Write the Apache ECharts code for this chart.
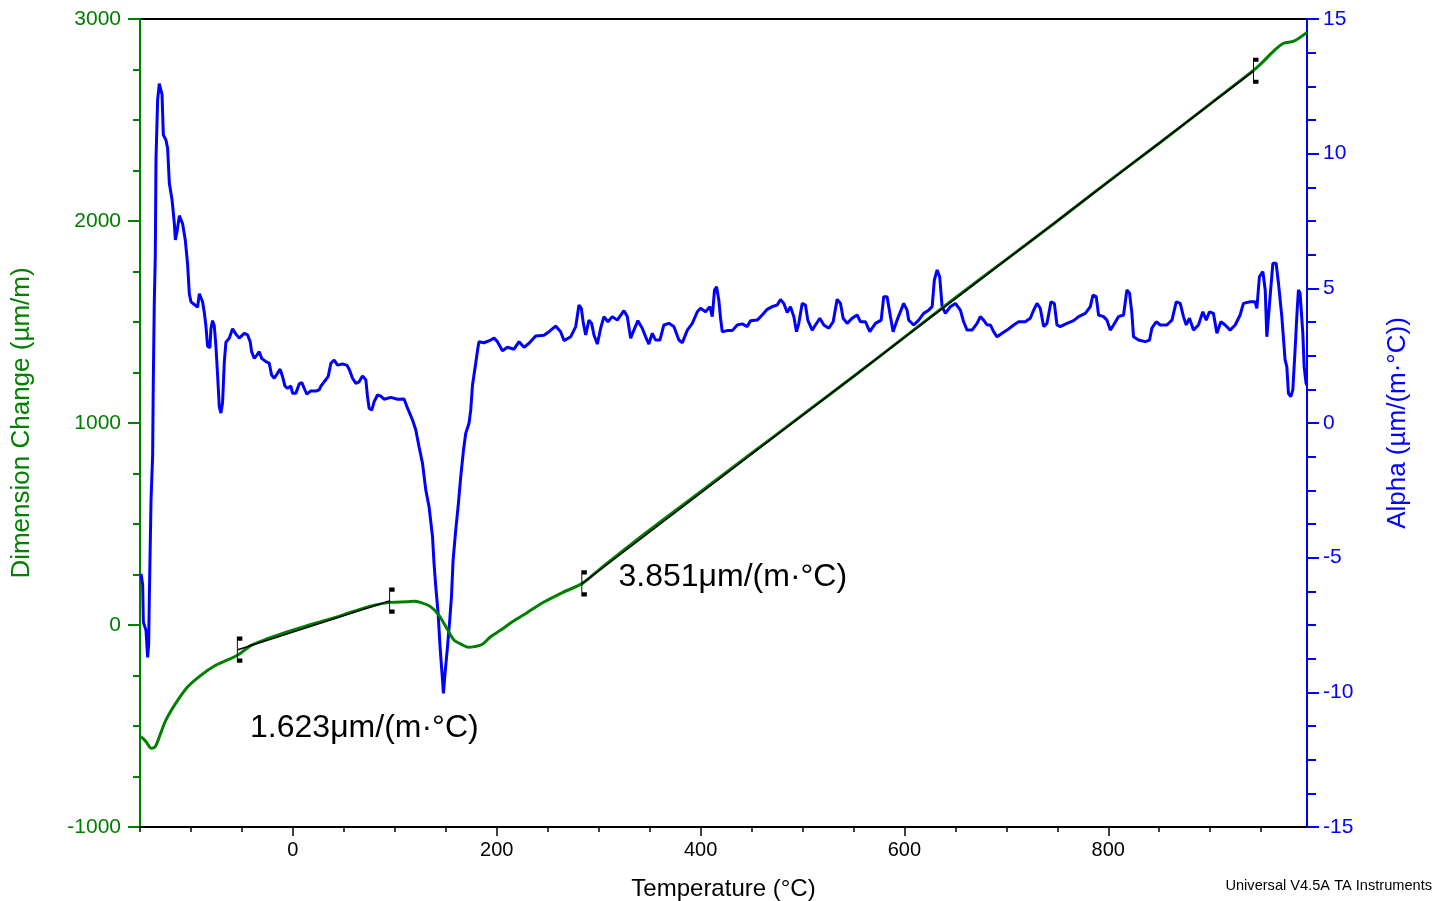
<!DOCTYPE html>
<html>
<head>
<meta charset="utf-8">
<title>Dimension Change and Alpha vs Temperature</title>
<script src="https://cdn.jsdelivr.net/npm/echarts@6/dist/echarts.min.js"></script>
<style>
  html, body { margin: 0; padding: 0; background: #fff; }
  #chart { width: 1448px; height: 901px; }
</style>
</head>
<body>
<div id="chart"></div>
<script>
// Dimension change (µm/m) against temperature (°C)
const dimTemp = [-149, -144, -139, -135, -131, -124.5, -115, -103, -90, -77, -64, -54, -41, -25, -5, 14, 40, 60, 80, 96, 112, 119, 125, 135, 143, 152, 158, 165, 172, 178, 186, 194, 204, 215, 230, 245, 263, 284, 300, 350, 400, 450, 500, 550, 600, 650, 700, 750, 800, 850, 900, 943, 952, 962, 972, 982, 995];
const dimValue = [-553, -578, -610, -602, -553, -470, -388, -305, -248, -203, -173, -149, -101, -68, -33, -3, 35, 68, 98, 112, 115, 118, 112, 91, 50, -25, -74, -95, -110, -107, -95, -58, -25, 15, 62, 110, 157, 206, 272, 470, 660, 850, 1040, 1230, 1425, 1620, 1810, 2000, 2195, 2385, 2580, 2748, 2789, 2840, 2880, 2890, 2934];

// Coefficient of expansion, alpha (µm/(m·°C)) against temperature (°C)
const alphaTemp = [
  -149, -147.4, -146.7, -144.1, -142.5, -141.5, -140.8, -139.2, -137.6, -137.0,
  -136.0, -135.0, -134.3, -132.7, -131.1, -129.4, -128.4, -127.1, -124.5, -122.9,
  -121.2, -118.6, -116.3, -115.3, -113.7, -111.4, -109.8, -108.2, -105.6, -103.3,
  -101.6, -100.0, -96.7, -93.5, -91.8, -90.2, -88.6, -86.9, -85.3, -83.7,
  -81.4, -80.4, -78.8, -77.1, -75.5, -73.9, -72.2, -70.6, -69.0, -67.3,
  -65.7, -62.4, -59.2, -55.9, -52.6, -47.7, -44.4, -41.9, -40.5, -37.9,
  -35.3, -33.0, -30.7, -26.5, -23.2, -20.9, -18.3, -15.0, -12.5, -10.1,
  -7.8, -5.2, -2.0, -0.3, 2.9, 6.2, 8.8, 11.1, 13.7, 17.6,
  22.5, 25.8, 27.5, 30.7, 34.6, 37.3, 40.5, 43.8, 48.7, 52.9,
  55.2, 58.5, 61.8, 65.0, 68.3, 71.6, 73.2, 74.8, 77.5, 79.7,
  83.0, 86.3, 89.5, 96.1, 102.6, 109.1, 112.5, 117.4, 120.6, 123.8,
  127.2, 130.4, 133.6, 137.0, 138.5, 140.2, 142.5, 144.4, 146.8, 147.7,
  149.3, 151.7, 153.9, 155.6, 157.2, 159.8, 162.1, 164.7, 167.4, 169.6,
  172.8, 174.5, 176.2, 179.4, 181.7, 182.6, 187.5, 194.1, 197.4, 200.7,
  205.6, 210.5, 217.0, 221.9, 226.8, 231.7, 238.2, 246.4, 251.3, 257.8,
  262.7, 266.0, 272.5, 277.5, 280.7, 283.0, 285.0, 287.3, 290.5, 293.1,
  295.4, 298.7, 302.0, 305.2, 309.1, 313.4, 318.3, 324.8, 328.1, 331.4,
  334.6, 338.5, 342.8, 346.1, 349.3, 352.6, 355.9, 360.1, 364.0, 368.9,
  373.8, 378.7, 382.1, 387.0, 391.9, 396.8, 400.0, 404.9, 409.1, 411.5,
  413.7, 415.7, 417.9, 419.6, 421.3, 426.2, 431.1, 436.0, 440.9, 445.8,
  449.0, 455.6, 460.5, 465.4, 470.3, 475.2, 478.4, 481.7, 485.0, 488.2,
  491.5, 494.1, 496.4, 499.7, 502.9, 505.2, 509.5, 512.7, 517.0, 520.9,
  525.8, 530.1, 534.0, 537.3, 539.9, 543.8, 548.7, 553.6, 556.9, 561.8,
  566.0, 571.6, 577.2, 579.7, 583.0, 586.3, 588.9, 592.8, 599.3, 602.6,
  604.2, 609.1, 614.0, 618.9, 623.8, 627.2, 629.4, 632.1, 634.6, 637.0,
  640.2, 645.1, 650.0, 654.9, 658.1, 661.5, 666.4, 671.3, 674.5, 677.7,
  681.1, 684.3, 687.5, 690.9, 695.8, 700.7, 707.2, 712.1, 718.6, 723.5,
  726.8, 730.1, 733.3, 736.6, 739.9, 743.8, 747.1, 749.7, 752.9, 759.5,
  766.0, 770.9, 777.5, 782.4, 785.0, 788.2, 790.5, 795.4, 798.7, 802.0,
  805.2, 810.1, 815.0, 818.3, 820.9, 823.2, 824.8, 829.7, 836.3, 840.5,
  842.8, 847.1, 851.0, 857.5, 862.5, 866.7, 870.6, 873.8, 876.5, 879.7,
  883.6, 888.5, 892.8, 896.1, 899.3, 903.2, 906.6, 910.5, 914.7, 919.6,
  924.5, 929.4, 932.6, 939.2, 944.1, 945.8, 948.3, 951.7, 954.0, 955.6,
  957.2, 958.8, 961.5, 964.7, 967.0, 970.3, 973.5, 975.2, 976.8, 979.1,
  981.1, 983.3, 985.0, 986.6, 988.2, 990.9, 992.2, 994.1, 995.0
];
const alphaValue = [
  -5.6, -6.0, -7.4, -7.7, -8.7, -8.2, -6.4, -2.9, -1.2, 1.35,
  4.4, 6.2, 9.8, 12.0, 12.6, 12.6, 12.2, 10.7, 10.5, 10.2,
  8.9, 8.3, 7.4, 6.8, 7.1, 7.7, 7.7, 7.4, 6.8, 5.9,
  4.8, 4.5, 4.4, 4.3, 4.8, 4.8, 4.5, 4.1, 3.6, 2.85,
  2.8, 3.5, 3.8, 3.6, 2.85, 1.8, 0.6, 0.37, 0.75, 2.25,
  3.0, 3.15, 3.5, 3.3, 3.15, 3.33, 3.27, 3.02, 2.65, 2.40,
  2.52, 2.65, 2.40, 2.28, 2.22, 1.78, 1.66, 1.85, 2.0, 1.72,
  1.37, 1.29, 1.37, 1.10, 1.10, 1.45, 1.50, 1.29, 1.07, 1.19,
  1.19, 1.23, 1.37, 1.53, 1.72, 2.22, 2.34, 2.15, 2.19, 2.15,
  2.0, 1.66, 1.47, 1.53, 1.75, 1.60, 0.98, 0.55, 0.48, 0.79,
  1.04, 1.0, 0.88, 0.95, 0.88, 0.89, 0.55, 0.11, -0.26, -0.88,
  -1.50, -2.49, -3.11, -4.22, -5.21, -6.08, -7.07, -8.31, -9.54, -10.04,
  -9.29, -8.31, -7.32, -6.45, -5.09, -3.97, -3.11, -1.99, -1.0, -0.38,
  -0.01, 0.48, 1.40, 2.22, 2.83, 3.02, 2.98, 3.08, 3.15, 3.02,
  2.68, 2.81, 2.74, 3.02, 2.81, 2.96, 3.23, 3.26, 3.39, 3.60,
  3.39, 3.06, 3.20, 3.58, 4.38, 4.26, 3.70, 3.27, 3.82, 3.70,
  3.27, 2.93, 3.52, 3.95, 3.76, 3.95, 3.82, 4.17, 3.95, 3.15,
  3.45, 3.80, 3.52, 3.20, 2.93, 3.33, 3.08, 3.08, 3.64, 3.70,
  3.58, 3.08, 2.98, 3.45, 3.70, 4.13, 4.26, 4.13, 4.32, 3.95,
  4.94, 5.06, 4.57, 3.89, 3.39, 3.43, 3.43, 3.64, 3.68, 3.58,
  3.80, 3.82, 4.01, 4.22, 4.32, 4.38, 4.59, 4.44, 4.10, 4.32,
  3.95, 3.39, 3.70, 4.44, 4.38, 3.82, 3.45, 3.64, 3.89, 3.64,
  3.52, 3.76, 4.59, 4.44, 3.89, 3.70, 3.89, 4.01, 3.76, 3.76,
  3.39, 3.70, 3.82, 4.69, 4.69, 3.95, 3.39, 3.82, 4.44, 4.19,
  3.82, 3.64, 3.82, 4.07, 4.19, 4.32, 5.31, 5.68, 5.43, 4.32,
  4.07, 4.32, 4.44, 4.19, 3.76, 3.45, 3.45, 3.70, 3.95, 3.82,
  3.64, 3.64, 3.39, 3.20, 3.33, 3.45, 3.64, 3.76, 3.76, 3.89,
  4.19, 4.44, 4.26, 3.58, 3.70, 4.50, 4.44, 3.64, 3.58, 3.70,
  3.80, 3.95, 4.07, 4.32, 4.75, 4.69, 4.01, 3.95, 3.82, 3.45,
  3.64, 3.95, 4.01, 4.94, 4.82, 4.07, 3.20, 3.08, 3.02, 3.08,
  3.52, 3.76, 3.64, 3.64, 3.82, 4.50, 4.44, 3.95, 3.64, 3.89,
  3.45, 3.64, 4.13, 3.82, 4.13, 4.07, 3.33, 3.76, 3.64, 3.45,
  3.64, 4.01, 4.44, 4.50, 4.50, 4.26, 5.43, 5.62, 4.94, 3.20,
  3.95, 4.69, 5.93, 5.93, 5.19, 3.95, 2.34, 2.09, 1.10, 0.98,
  1.23, 2.71, 3.95, 4.94, 4.82, 3.33, 2.09, 1.47, 1.40
];

// Linear fits: start temperature, end temperature, start value, slope (µm/(m·°C))
const fitStartTemp = [-54, 284];
const fitEndTemp = [95.4, 943];
const fitStartValue = [-122, 206];
const fitSlope = [1.623, 3.851];
// Where each slope label sits, in data units (temperature, dimension change)
const fitLabelTemp = [-42, 319.5];
const fitLabelValue = [-510, 238];

const xTickLabels = [0, 200, 400, 600, 800];

const GREEN = '#008000';
const BLUE = '#0000ff';
const FONT = '"Liberation Sans", Arial, sans-serif';

const zip = (a, b) => a.map((v, i) => [v, b[i]]);

const fitLines = fitStartTemp.map((t0, i) => {
  const t1 = fitEndTemp[i];
  const v0 = fitStartValue[i];
  const v1 = v0 + fitSlope[i] * (t1 - t0);
  return [[t0, v0], [t1, v1]];
});

const bracketPoints = [];
fitLines.forEach(seg => { bracketPoints.push(seg[0], seg[1]); });

const chart = echarts.init(document.getElementById('chart'), null, { renderer: 'canvas' });

const series = [
  {
    name: 'Alpha',
    type: 'line',
    xAxisIndex: 0,
    yAxisIndex: 1,
    data: zip(alphaTemp, alphaValue),
    showSymbol: false,
    symbol: 'none',
    lineStyle: { color: BLUE, width: 3 },
    z: 2
  },
  {
    name: 'Dimension Change',
    type: 'line',
    xAxisIndex: 0,
    yAxisIndex: 0,
    data: zip(dimTemp, dimValue),
    showSymbol: false,
    symbol: 'none',
    smooth: 0.3,
    lineStyle: { color: GREEN, width: 3 },
    z: 3
  }
];

fitLines.forEach((seg, i) => {
  series.push({
    name: 'Fit ' + (i + 1),
    type: 'line',
    xAxisIndex: 0,
    yAxisIndex: 0,
    data: seg,
    showSymbol: false,
    symbol: 'none',
    lineStyle: { color: '#000', width: 1.6 },
    z: 4
  });
});

series.push({
  name: 'Fit limits',
  type: 'scatter',
  xAxisIndex: 0,
  yAxisIndex: 0,
  data: bracketPoints,
  symbol: 'path://M4,0 L0,0 L0,22 L4,22',
  symbolSize: [5, 22],
  symbolOffset: [2, 0],
  symbolKeepAspect: false,
  itemStyle: { color: 'none', borderColor: '#000', borderWidth: 2, opacity: 1 },
  z: 5
});

series.push({
  name: 'Slope labels',
  type: 'scatter',
  xAxisIndex: 0,
  yAxisIndex: 0,
  data: fitSlope.map((s, i) => ({ value: [fitLabelTemp[i], fitLabelValue[i]], slope: s })),
  symbolSize: 0,
  itemStyle: { opacity: 1 },
  label: {
    show: true,
    position: 'right',
    distance: 0,
    formatter: p => p.data.slope.toFixed(3) + 'μm/(m·°C)',
    fontFamily: FONT,
    fontSize: 32,
    color: '#000',
    opacity: 1
  },
  z: 6
});

const option = {
  animation: false,
  backgroundColor: '#fff',
  textStyle: { fontFamily: FONT },
  grid: {
    left: 140, right: 141, top: 19, bottom: 74,
    show: true, borderColor: '#000', borderWidth: 2,
    containLabel: false,
    outerBoundsMode: 'none'
  },
  xAxis: [
    {
      type: 'value',
      min: -150,
      max: 995,
      interval: 50,
      position: 'bottom',
      axisLine: { show: true, onZero: false, lineStyle: { color: '#000', width: 2 } },
      axisTick: { show: true, length: 5, lineStyle: { color: '#000', width: 1.5 } },
      axisLabel: {
        show: true,
        color: '#000',
        fontSize: 20,
        fontFamily: FONT,
        margin: 13,
        showMaxLabel: false,
        formatter: v => (xTickLabels.indexOf(v) >= 0 ? String(v) : '')
      },
      splitLine: { show: false },
      name: 'Temperature (°C)',
      nameLocation: 'middle',
      nameGap: 50,
      nameTextStyle: { color: '#000', fontSize: 24, fontFamily: FONT }
    },
    {
      type: 'value',
      min: -150,
      max: 995,
      position: 'bottom',
      axisLine: { show: false, onZero: false },
      axisTick: { show: true, length: 9, customValues: xTickLabels, lineStyle: { color: '#000', width: 1.5 } },
      axisLabel: { show: false },
      splitLine: { show: false }
    }
  ],
  yAxis: [
    {
      type: 'value',
      min: -1000,
      max: 3000,
      interval: 1000,
      position: 'left',
      axisLine: { show: true, onZero: false, lineStyle: { color: GREEN, width: 2 } },
      axisTick: { show: true, length: 12, lineStyle: { color: GREEN, width: 2 } },
      minorTick: { show: true, splitNumber: 4, length: 7, lineStyle: { color: GREEN, width: 2 } },
      axisLabel: { color: GREEN, fontSize: 21, fontFamily: FONT, margin: 19, formatter: v => String(v) },
      splitLine: { show: false },
      minorSplitLine: { show: false },
      name: 'Dimension Change (µm/m)',
      nameLocation: 'middle',
      nameGap: 105,
      nameRotate: 90,
      nameTextStyle: { color: GREEN, fontSize: 26, fontFamily: FONT }
    },
    {
      type: 'value',
      min: -15,
      max: 15,
      interval: 5,
      position: 'right',
      axisLine: { show: true, onZero: false, lineStyle: { color: BLUE, width: 2 } },
      axisTick: { show: true, length: 12, lineStyle: { color: BLUE, width: 2 } },
      minorTick: { show: true, splitNumber: 4, length: 9, lineStyle: { color: BLUE, width: 2 } },
      axisLabel: { color: BLUE, fontSize: 21, fontFamily: FONT, margin: 16, formatter: v => String(v) },
      splitLine: { show: false },
      minorSplitLine: { show: false },
      name: 'Alpha (µm/(m·°C))',
      nameLocation: 'middle',
      nameGap: 78,
      nameRotate: 90,
      nameTextStyle: { color: BLUE, fontSize: 26, fontFamily: FONT }
    }
  ],
  graphic: [
    {
      type: 'text',
      right: 16,
      bottom: 8,
      style: {
        text: 'Universal V4.5A TA Instruments',
        fontSize: 14.6,
        fontFamily: FONT,
        fill: '#000'
      }
    }
  ],
  series: series
};

chart.setOption(option);
</script>
</body>
</html>
